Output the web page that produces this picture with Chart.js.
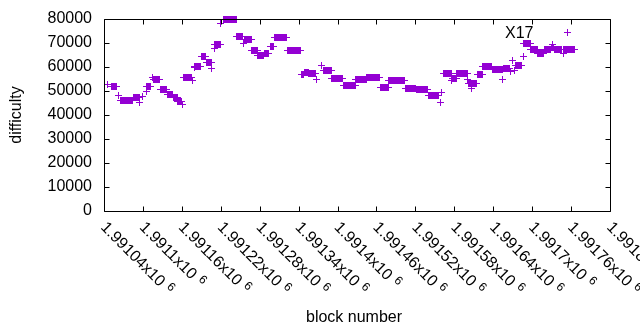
<!DOCTYPE html>
<html><head><meta charset="utf-8">
<script src="https://cdn.jsdelivr.net/npm/chart.js@4/dist/chart.umd.min.js"></script>
<style>html,body{margin:0;padding:0;background:#fff;}#wrap{width:640px;height:330px;}</style>
</head><body><div id="wrap"><canvas id="c" width="640" height="330"></canvas></div>
<script>
// Runs of blocks sharing one difficulty value (single blocks have from == to)
const blockFrom = [1991046,1991051,1991062,1991065,1991085,1991095,1991100,1991105,1991106,1991114,1991116,1991127,1991138,1991147,1991154,1991161,1991162,1991177,1991179,1991180,1991191,1991198,1991206,1991210,1991211,1991220,1991224,1991245,1991255,1991256,1991268,1991277,1991287,1991296,1991303,1991323,1991344,1991349,1991356,1991368,1991376,1991378,1991391,1991409,1991428,1991445,1991466,1991479,1991504,1991521,1991540,1991558,1991561,1991564,1991576,1991577,1991584,1991601,1991602,1991606,1991607,1991615,1991624,1991639,1991655,1991656,1991666,1991669,1991673,1991674,1991686,1991687,1991698,1991709,1991719,1991730,1991732,1991733,1991735,1991748,1991749,1991755,1991756];
const blockTo   = [1991046,1991060,1991062,1991084,1991094,1991095,1991100,1991105,1991112,1991114,1991126,1991137,1991146,1991153,1991159,1991161,1991175,1991177,1991179,1991188,1991197,1991205,1991206,1991210,1991219,1991220,1991244,1991254,1991255,1991267,1991276,1991286,1991294,1991302,1991322,1991343,1991348,1991355,1991366,1991368,1991376,1991390,1991408,1991427,1991444,1991465,1991478,1991503,1991520,1991539,1991556,1991558,1991561,1991575,1991576,1991583,1991600,1991601,1991605,1991606,1991614,1991623,1991638,1991654,1991655,1991665,1991666,1991669,1991673,1991684,1991686,1991697,1991708,1991718,1991729,1991731,1991732,1991733,1991746,1991748,1991754,1991755,1991766];
const difficulty = [52900,51700,48300,46100,47100,45400,47900,49600,51700,55800,54600,50800,48500,47100,45800,44200,55800,54200,59600,60400,64200,61700,59200,67900,69200,78300,79600,72700,69600,71500,66900,64600,65800,68700,72300,66700,56900,57700,57300,55000,60600,58700,55400,52100,54600,55600,51500,54200,51200,50600,48100,45200,49200,57500,54200,55400,57100,54600,53300,51200,53300,56700,60400,58900,55000,59200,58300,62900,58700,60600,64200,69600,67300,65800,67300,68300,69200,68300,67100,65800,67100,74200,67100];

const xMin = 1991040, xMax = 1991820, xStep = 60;
const yMin = 0, yMax = 80000, yStep = 10000;
const xTitle = 'block number';
const yTitle = 'difficulty';
const plotLabel = 'X17';
const COLOR = '#9400d3';
const FONT = '"Liberation Sans", Arial, sans-serif';

const points = [];
for (let i = 0; i < blockFrom.length; i++) {
  for (let b = blockFrom[i]; b <= blockTo[i]; b++) points.push({x: b, y: difficulty[i]});
}

// crisp 7x7 plus marker
const plus = document.createElement('canvas');
plus.width = 7; plus.height = 7;
(function () {
  const g = plus.getContext('2d');
  g.fillStyle = COLOR;
  g.fillRect(0, 3, 7, 1);
  g.fillRect(3, 0, 1, 7);
})();

function fmtX(v) {
  return parseFloat((v / 1e6).toFixed(5)).toString();
}

const crisp = {
  id: 'crisp',
  beforeDatasetsDraw(chart) { chart.ctx.imageSmoothingEnabled = false; }
};

const frame = {
  id: 'frame',
  afterDraw(chart) {
    const ctx = chart.ctx, a = chart.chartArea;
    const xs = chart.scales.x, ys = chart.scales.y;
    const L = Math.round(a.left) + 0.5, R = Math.round(a.right) + 0.5;
    const T = Math.round(a.top) + 0.5, B = Math.round(a.bottom) + 0.5;
    ctx.save();
    ctx.strokeStyle = '#000'; ctx.lineWidth = 1;
    ctx.beginPath();
    ctx.rect(L, T, R - L, B - T);
    const tl = 5;
    xs.ticks.forEach(t => {
      const px = Math.round(xs.getPixelForValue(t.value)) + 0.5;
      ctx.moveTo(px, B); ctx.lineTo(px, B - tl);
      ctx.moveTo(px, T); ctx.lineTo(px, T + tl);
    });
    ys.ticks.forEach(t => {
      const py = Math.round(ys.getPixelForValue(t.value)) + 0.5;
      ctx.moveTo(L, py); ctx.lineTo(L + tl, py);
      ctx.moveTo(R, py); ctx.lineTo(R - tl, py);
    });
    ctx.stroke();
    ctx.fillStyle = '#000';
    // y tick labels
    ctx.font = '16px ' + FONT;
    ctx.textAlign = 'right'; ctx.textBaseline = 'middle';
    ys.ticks.forEach(t => {
      ctx.fillText(String(t.value), 92, ys.getPixelForValue(t.value));
    });
    // x tick labels rotated
    xs.ticks.forEach(t => {
      const px = xs.getPixelForValue(t.value);
      const main = fmtX(t.value) + 'x10';
      ctx.save();
      ctx.translate(px - 1, 225);
      ctx.rotate(Math.PI / 4);
      ctx.font = '16px ' + FONT;
      ctx.textAlign = 'left'; ctx.textBaseline = 'middle';
      ctx.fillText(main, 0, 0);
      const w = ctx.measureText(main).width;
      ctx.font = '12px ' + FONT;
      ctx.fillText('6', w + 5, -4);
      ctx.restore();
    });
    // titles
    ctx.font = '16px ' + FONT;
    ctx.textAlign = 'center'; ctx.textBaseline = 'alphabetic';
    ctx.fillText(xTitle, 354, 322);
    ctx.save();
    ctx.translate(21, 115);
    ctx.rotate(-Math.PI / 2);
    ctx.fillText(yTitle, 0, 0);
    ctx.restore();
    ctx.textAlign = 'left';
    ctx.fillText(plotLabel, 505, 38);
    ctx.restore();
  }
};

new Chart(document.getElementById('c'), {
  type: 'scatter',
  data: {
    datasets: [{
      data: points,
      pointStyle: plus,
      pointRadius: 3.5,
      pointHoverRadius: 3.5,
      pointBorderWidth: 1,
      borderColor: COLOR,
      backgroundColor: COLOR,
      showLine: false,
      clip: false
    }]
  },
  options: {
    responsive: false,
    animation: false,
    devicePixelRatio: 1,
    events: [],
    layout: {padding: {left: 0, right: 30, top: 19, bottom: 0}},
    plugins: {legend: {display: false}, tooltip: {enabled: false}},
    scales: {
      x: {
        type: 'linear', min: xMin, max: xMax,
        ticks: {stepSize: xStep, display: false},
        grid: {display: false, drawTicks: false},
        border: {display: false},
        afterFit: s => { s.height = 119; }
      },
      y: {
        type: 'linear', min: yMin, max: yMax,
        ticks: {stepSize: yStep, display: false},
        grid: {display: false, drawTicks: false},
        border: {display: false},
        afterFit: s => { s.width = 104; }
      }
    }
  },
  plugins: [crisp, frame]
});
</script>
</body></html>
